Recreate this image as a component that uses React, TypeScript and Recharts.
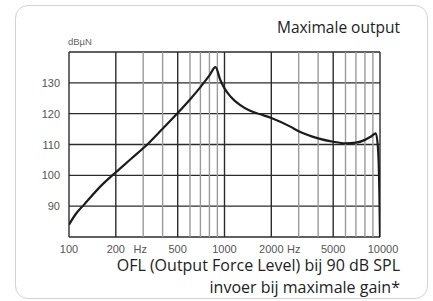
import React from 'react';
import { LineChart, Line, XAxis, YAxis, CartesianGrid, ReferenceLine } from 'recharts';

const freqs = [100, 110, 125, 160, 200, 250, 325, 400, 500, 600, 700, 800, 875, 940, 1000, 1100, 1250, 1450, 1700, 2000, 2650, 3000, 4000, 5000, 6000, 7000, 8000, 8700, 9400, 9700, 9900, 10000];
const levels = [84, 87.3, 90.5, 96.5, 101, 105.3, 110.4, 115.1, 120.2, 124.6, 128.6, 132.4, 135.1, 130.9, 128.2, 125.4, 122.9, 121, 119.8, 118.6, 115.8, 114.3, 112, 110.9, 110.4, 110.6, 111.5, 112.5, 113.6, 109, 95, 80];

const xMajorTicks = [100, 200, 500, 1000, 2000, 5000, 10000];
const xMinorTicks = [300, 400, 600, 700, 800, 900, 3000, 4000, 6000, 7000, 8000, 9000];
const xLabelValues = [100, 200, 300, 500, 1000, 2000, 3000, 5000, 10000];
const xLabelTexts = ['100', '200', 'Hz', '500', '1000', '2000', 'Hz', '5000', '10000'];

const yGridTicks = [80, 90, 100, 110, 120, 130, 140];
const yLabelValues = [90, 100, 110, 120, 130];

const data = freqs.map((f, i) => ({ f, level: levels[i] }));

const narrow = "'Liberation Sans Narrow', 'Liberation Sans', Arial, sans-serif";
const tickFont = { fontFamily: narrow, fontSize: 11, fill: '#555' };

function XTick(props: any) {
  const { x, y, payload } = props;
  const idx = xLabelValues.indexOf(payload.value);
  if (idx < 0) return null;
  const text = xLabelTexts[idx];
  let dx = 0;
  if (text === 'Hz') dx = payload.value === 300 ? -3 : -5;
  if (payload.value === 10000) dx = 3;
  return (
    <text x={x + dx} y={y + 8} textAnchor="middle" {...tickFont}>
      {text}
    </text>
  );
}

function YTick(props: any) {
  const { x, y, payload } = props;
  if (!yLabelValues.includes(payload.value)) return null;
  return (
    <text x={x - 1} y={y + 4} textAnchor="end" {...tickFont}>
      {payload.value}
    </text>
  );
}

const textFont = "'Open Sans', 'Noto Sans', sans-serif";

export default function App() {
  return (
    <div style={{ position: 'absolute', left: 0, top: 0, width: 433, height: 301, background: '#fff', overflow: 'hidden' }}>
      <div
        style={{
          position: 'absolute',
          left: 15,
          top: 5,
          width: 413,
          height: 294,
          border: '1px solid #d2d2d2',
          borderRadius: 13,
          boxSizing: 'border-box',
        }}
      />
      <div style={{ position: 'absolute', left: 0, top: 0 }}>
        <LineChart width={433} height={301} data={data} margin={{ top: 52, right: 53, bottom: 44, left: 39 }}>
          <CartesianGrid stroke="#2b2b2b" strokeWidth={1.4} vertical={false} />
          {xMinorTicks.map((v) => (
            <ReferenceLine key={'mi' + v} x={v} stroke="#9a9a9a" strokeWidth={1.4} />
          ))}
          {xMajorTicks.map((v) => (
            <ReferenceLine key={'ma' + v} x={v} stroke="#2b2b2b" strokeWidth={1.4} />
          ))}
          <XAxis
            dataKey="f"
            type="number"
            scale="log"
            domain={[100, 10000]}
            ticks={xLabelValues}
            interval={0}
            axisLine={false}
            tickLine={false}
            height={20}
            tick={<XTick />}
            allowDataOverflow
          />
          <YAxis
            type="number"
            domain={[80, 140]}
            ticks={yGridTicks}
            interval={0}
            axisLine={false}
            tickLine={false}
            width={30}
            tick={<YTick />}
            allowDataOverflow
          />
          <Line
            dataKey="level"
            type="monotone"
            stroke="#1c1c1c"
            strokeWidth={2.2}
            dot={false}
            isAnimationActive={false}
          />
        </LineChart>
      </div>
      <div style={{ position: 'absolute', left: 68, top: 36, fontFamily: narrow, fontSize: 9.5, color: '#666' }}>
        dBµN
      </div>
      <div style={{ position: 'absolute', right: 33, top: 16, fontFamily: textFont, fontSize: 15.5, lineHeight: '22px', color: '#222' }}>
        Maximale output
      </div>
      <div
        style={{
          position: 'absolute',
          right: 33,
          top: 256,
          fontFamily: textFont,
          fontSize: 16,
          lineHeight: '18px',
          color: '#222',
          whiteSpace: 'nowrap',
        }}
      >
        OFL (Output Force Level) bij 90 dB SPL
      </div>
      <div
        style={{
          position: 'absolute',
          right: 33,
          top: 278,
          fontFamily: textFont,
          fontSize: 16,
          lineHeight: '18px',
          color: '#222',
          whiteSpace: 'nowrap',
        }}
      >
        invoer bij maximale gain*
      </div>
    </div>
  );
}
